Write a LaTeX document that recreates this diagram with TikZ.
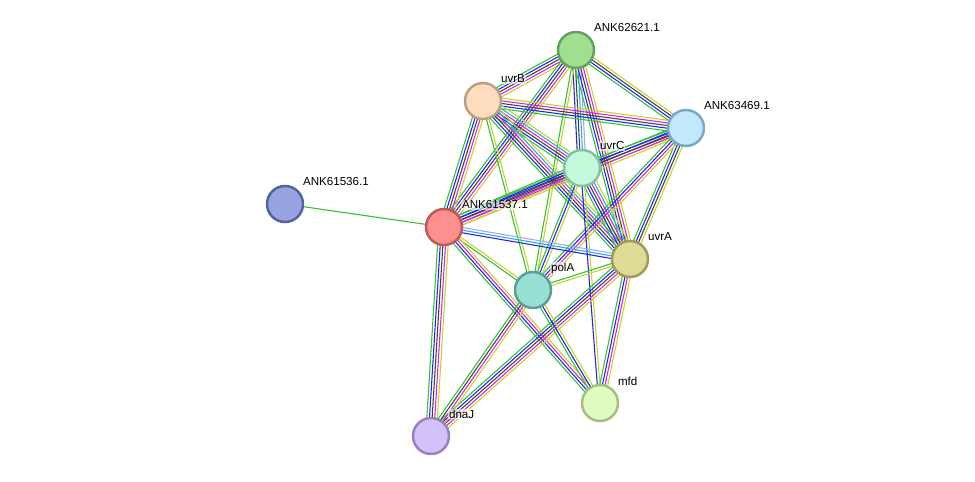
\documentclass[tikz,border=0pt]{standalone}
\usepackage{fontspec}
\setmainfont{Liberation Sans}
\usepackage{tikz}
\usetikzlibrary{calc,backgrounds}
\definecolor{evgreen}{HTML}{33C233}
\definecolor{evblue}{HTML}{2424EE}
\definecolor{evblack}{HTML}{444444}
\definecolor{evmagenta}{HTML}{DD24DD}
\definecolor{evcyan}{HTML}{24B2D8}
\definecolor{evyellow}{HTML}{C4D42E}
\definecolor{evlav}{HTML}{A4A4FF}
\colorlet{G}{evgreen}
\colorlet{B}{evblue}
\colorlet{K}{evblack}
\colorlet{M}{evmagenta}
\colorlet{C}{evcyan}
\colorlet{Y}{evyellow}
\colorlet{L}{evlav}
\newcommand{\band}[3]{%
  \foreach \c [count=\i] in {#3} {\xdef\nband{\i}}%
  \foreach \c [count=\i] in {#3} {%
    \pgfmathsetmacro{\off}{(\i-(\nband+1)/2)*1.5}%
    \draw[\c,line width=0.62pt] ($(#1)!\off pt!90:(#2)$) -- ($(#2)!\off pt!-90:(#1)$);
  }%
}

\begin{document}
\begin{tikzpicture}[
  x=0.02cm,y=-0.02cm,
  prot/.style={circle,inner sep=0pt,minimum size=0.72cm,line width=1.4pt},
  lbl/.style={anchor=west,inner sep=0.4pt,fill=white,fill opacity=0.6,text opacity=1,font=\fontsize{6.6}{7.5}\selectfont}
]
\useasboundingbox (0,0) rectangle (975,481);
\node[prot,fill={rgb,255:red,160;green,222;blue,144},draw={rgb,255:red,96;green,164;blue,90}] (a62621) at (576,50) {};
\node[prot,fill={rgb,255:red,253;green,221;blue,190},draw={rgb,255:red,184;green,160;blue,128}] (uvrB) at (483,101) {};
\node[prot,fill={rgb,255:red,194;green,232;blue,251},draw={rgb,255:red,123;green,167;blue,196}] (a63469) at (686,128) {};
\node[prot,fill={rgb,255:red,195;green,250;blue,219},draw={rgb,255:red,134;green,194;blue,160}] (uvrC) at (582,168) {};
\node[prot,fill={rgb,255:red,152;green,164;blue,224},draw={rgb,255:red,85;green,96;blue,160}] (a61536) at (285,204) {};
\node[prot,fill={rgb,255:red,253;green,143;blue,143},draw={rgb,255:red,192;green,88;blue,88}] (a61537) at (444,227) {};
\node[prot,fill={rgb,255:red,222;green,219;blue,151},draw={rgb,255:red,160;green,154;blue,90}] (uvrA) at (630,259) {};
\node[prot,fill={rgb,255:red,152;green,224;blue,214},draw={rgb,255:red,90;green,158;blue,150}] (polA) at (533,290) {};
\node[prot,fill={rgb,255:red,224;green,252;blue,192},draw={rgb,255:red,164;green,192;blue,128}] (mfd) at (600,403) {};
\node[prot,fill={rgb,255:red,210;green,194;blue,249},draw={rgb,255:red,154;green,128;blue,192}] (dnaJ) at (431,436) {};
\node[lbl] (a62621l) at ([shift={(17,-22)}]a62621.center) {ANK62621.1};
\node[lbl] (uvrBl) at ([shift={(17,-22)}]uvrB.center) {uvrB};
\node[lbl] (a63469l) at ([shift={(17,-22)}]a63469.center) {ANK63469.1};
\node[lbl] (uvrCl) at ([shift={(17,-22)}]uvrC.center) {uvrC};
\node[lbl] (a61536l) at ([shift={(17,-22)}]a61536.center) {ANK61536.1};
\node[lbl] (a61537l) at ([shift={(17,-22)}]a61537.center) {ANK61537.1};
\node[lbl] (uvrAl) at ([shift={(17,-22)}]uvrA.center) {uvrA};
\node[lbl] (polAl) at ([shift={(17,-22)}]polA.center) {polA};
\node[lbl] (mfdl) at ([shift={(17,-22)}]mfd.center) {mfd};
\node[lbl] (dnaJl) at ([shift={(17,-22)}]dnaJ.center) {dnaJ};
\begin{pgfonlayer}{background}
\band{a62621}{uvrB}{G,B,K,M,Y}
\band{a62621}{a63469}{G,B,K,Y}
\band{a62621}{uvrC}{B,K,C,L}
\band{a62621}{a61537}{G,B,K,M,Y}
\band{a62621}{polA}{G,Y}
\band{a62621}{uvrA}{G,B,K,M,Y}
\band{uvrB}{a63469}{G,B,K,M,Y}
\band{uvrB}{uvrC}{G,B,K,M,C,Y}
\band{uvrB}{a61537}{G,B,K,M,Y}
\band{uvrB}{uvrA}{G,B,K,M,C,Y}
\band{uvrB}{polA}{G,Y}
\band{a63469}{uvrC}{G,B,K,Y}
\band{a63469}{a61537}{G,B,K,M,Y}
\band{a63469}{uvrA}{G,B,K,Y}
\band{a63469}{polA}{G,B,M,Y}
\band{uvrC}{a61537}{G,B,K,M,Y}
\band{uvrC}{uvrA}{G,B,K,M,C,Y}
\band{uvrC}{polA}{G,B,Y}
\band{uvrC}{mfd}{B,Y}
\band{a61537}{uvrA}{B,C,L}
\band{a61537}{polA}{G,Y}
\band{a61537}{dnaJ}{G,B,K,M,Y}
\band{a61537}{mfd}{G,B,M,Y}
\band{uvrA}{polA}{G,Y}
\band{uvrA}{dnaJ}{G,B,K,M,Y}
\band{uvrA}{mfd}{G,B,M,Y}
\band{polA}{dnaJ}{G,K,M,Y}
\band{polA}{mfd}{G,B,Y}
\band{a61536}{a61537}{G}
\end{pgfonlayer}
\end{tikzpicture}
\end{document}
